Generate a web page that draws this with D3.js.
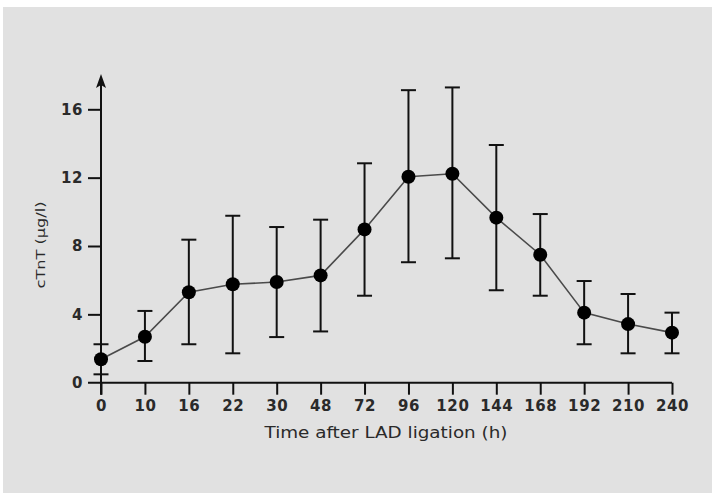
<!DOCTYPE html>
<html>
<head>
<meta charset="utf-8">
<script src="https://cdn.jsdelivr.net/npm/d3@7"></script>
<style>
  html, body { margin: 0; padding: 0; background: #fff; }
  svg { display: block; }
</style>
</head>
<body>
<div id="graph"></div>
<script>
// hours after ligation, cTnT mean and the error bar ends
const hours = ["0", "10", "16", "22", "30", "48", "72", "96", "120", "144", "168", "192", "210", "240"];
const ctnt  = [1.37, 2.69, 5.29, 5.76, 5.89, 6.28, 8.97, 12.05, 12.23, 9.66, 7.49, 4.10, 3.43, 2.93];
const upper = [2.25, 4.20, 8.37, 9.77, 9.11, 9.54, 12.84, 17.12, 17.28, 13.91, 9.87, 5.95, 5.19, 4.10];
const lower = [0.49, 1.27, 2.25, 1.72, 2.67, 3.00, 5.09, 7.05, 7.28, 5.41, 5.09, 2.25, 1.72, 1.72];
const yTicks = [0, 4, 8, 12, 16];

document.addEventListener('DOMContentLoaded', () => {
  let width = 713, height = 493;
  let x0 = 101, x1 = 672, yBase = 382.7, yTop = 109.3;
  let font = "DejaVu Sans, Verdana, sans-serif";

  let x = d3.scalePoint().domain(hours).range([x0, x1]);
  let y = d3.scaleLinear().domain([0, 16]).range([yBase, yTop]);

  let svg = d3.select("#graph").append("svg").attr("width", width).attr("height", height);

  // grey panel
  svg.append("rect").attr("x", 3).attr("y", 7).attr("width", width - 4).attr("height", height - 7)
    .attr("fill", "#e1e1e1");

  let data = hours.map((h, i) => ({h: h, v: ctnt[i], hi: upper[i], lo: lower[i]}));

  // x axis: line from a little left of the y axis, ticks hang down
  let xAxis = d3.axisBottom(x).tickSize(12).tickPadding(6).tickSizeOuter(0);
  let gx = svg.append("g").attr("transform", "translate(0," + yBase + ")").call(xAxis);
  gx.select(".domain").remove();
  gx.append("line").attr("x1", x0 - 13).attr("x2", x1).attr("y1", 0).attr("y2", 0)
    .attr("stroke", "#111").attr("stroke-width", 2);
  gx.selectAll(".tick line").attr("stroke", "#111").attr("stroke-width", 2);
  gx.selectAll(".tick text").attr("font-size", 15).attr("letter-spacing", 0.6)
    .attr("font-weight", 600).attr("fill", "#2a2a2a").attr("font-family", font);

  // y axis with arrow head at top
  let yAxis = d3.axisLeft(y).tickValues(yTicks).tickSize(13).tickPadding(5).tickSizeOuter(0);
  let gy = svg.append("g").attr("transform", "translate(" + x0 + ",0)").call(yAxis);
  gy.select(".domain").remove();
  gy.selectAll(".tick line").attr("stroke", "#111").attr("stroke-width", 2);
  gy.selectAll(".tick").filter(d => d === 0).select("line").remove();
  gy.selectAll(".tick text").attr("font-size", 15).attr("letter-spacing", 0.6)
    .attr("font-weight", 600).attr("fill", "#2a2a2a").attr("font-family", font);
  gy.append("line").attr("x1", 0).attr("x2", 0).attr("y1", yBase + 12).attr("y2", 82)
    .attr("stroke", "#111").attr("stroke-width", 2);
  gy.append("path").attr("d", "M0,74 L-5,88 L0,85 L5,88 Z").attr("fill", "#111");

  // axis titles
  svg.append("text").attr("x", 386).attr("y", 438).attr("text-anchor", "middle")
    .attr("font-family", font).attr("font-size", 15).attr("fill", "#2a2a2a")
    .attr("textLength", 243).attr("lengthAdjust", "spacingAndGlyphs")
    .text("Time after LAD ligation (h)");
  svg.append("text").attr("transform", "translate(45,245) rotate(-90)").attr("text-anchor", "middle")
    .attr("font-family", font).attr("font-size", 13).attr("fill", "#2a2a2a")
    .attr("textLength", 87).attr("lengthAdjust", "spacingAndGlyphs")
    .text("cTnT (µg/l)");

  // connecting line
  let line = d3.line().x(d => x(d.h)).y(d => y(d.v));
  svg.append("path").datum(data).attr("d", line).attr("fill", "none")
    .attr("stroke", "#4a4a4a").attr("stroke-width", 1.6);

  // error bars
  let bars = svg.selectAll(".err").data(data).enter().append("g").attr("class", "err")
    .attr("stroke", "#111").attr("stroke-width", 2);
  bars.append("line").attr("x1", d => x(d.h)).attr("x2", d => x(d.h))
    .attr("y1", d => y(d.hi)).attr("y2", d => y(d.lo));
  bars.append("line").attr("x1", d => x(d.h) - 7.5).attr("x2", d => x(d.h) + 7.5)
    .attr("y1", d => y(d.hi)).attr("y2", d => y(d.hi));
  bars.append("line").attr("x1", d => x(d.h) - 7.5).attr("x2", d => x(d.h) + 7.5)
    .attr("y1", d => y(d.lo)).attr("y2", d => y(d.lo));

  // markers
  svg.selectAll(".dot").data(data).enter().append("circle").attr("class", "dot")
    .attr("cx", d => x(d.h)).attr("cy", d => y(d.v)).attr("r", 7).attr("fill", "#000");
});
</script>
</body>
</html>
